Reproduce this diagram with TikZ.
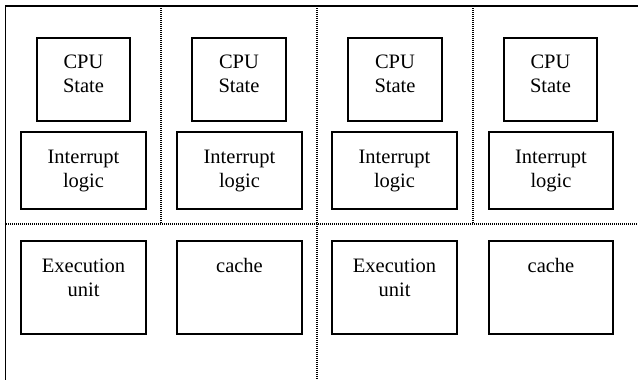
\documentclass[tikz,border=0pt]{standalone}
\usepackage{fontspec}
\setmainfont{Liberation Serif}
\begin{document}
\begin{tikzpicture}[x=1pt,y=-1pt,
  box/.style={draw=black,line width=1.6pt},
  lbl/.style={anchor=base,align=center,inner sep=0pt,font=\rmfamily\fontsize{20.5}{24.5}\selectfont},
  frame/.style={draw=black,line width=1.6pt},
  dot/.style={draw=black,line width=1.1pt,dash pattern=on 1pt off 1pt}]
\useasboundingbox (0,0) rectangle (638,380);
% frame
\coordinate (ftl) at (5.5,6);
\coordinate (fbl) at (5.5,380);
\coordinate (ftr) at (638,6);
\draw[frame] (fbl) -- (ftl) -- (ftr);
% dotted dividers
\coordinate (v1t) at (161,6); \coordinate (v1b) at (161,224);
\coordinate (v2t) at (317,6); \coordinate (v2b) at (317,380);
\coordinate (v3t) at (473,6); \coordinate (v3b) at (473,224);
\coordinate (hl) at (6,224); \coordinate (hr) at (638,224);
\draw[dot] (v1t) -- (v1b);
\draw[dot] (v2t) -- (v2b);
\draw[dot] (v3t) -- (v3b);
\draw[dot] (hl) -- (hr);
% CPU state boxes
\foreach \i/\a/\b in {1/37/130,2/192/286,3/348/442,4/504/597}{
  \node[box,inner sep=0pt,minimum width=\b-\a,minimum height=83] (cpu\i) at ({(\a+\b)/2},79.5) {};
  \node[lbl] (cput\i) at ({(\a+\b)/2},92.5) {CPU\\State};
}
% interrupt boxes
\foreach \i/\a/\b in {1/21/146,2/177/302,3/332/457,4/489/613}{
  \node[box,inner sep=0pt,minimum width=\b-\a,minimum height=77] (int\i) at ({(\a+\b)/2},170.5) {};
  \node[lbl] (intt\i) at ({(\a+\b)/2},187.5) {Interrupt\\logic};
}
% bottom boxes
\node[box,inner sep=0pt,minimum width=125,minimum height=93] (ex1) at (83.5,287.5) {};
\node[lbl] (ext1) at (83.5,296.5) {Execution\\unit};
\node[box,inner sep=0pt,minimum width=125,minimum height=93] (ca1) at (239.5,287.5) {};
\node[lbl] (cat1) at (239.5,272) {cache};
\node[box,inner sep=0pt,minimum width=125,minimum height=93] (ex2) at (394.5,287.5) {};
\node[lbl] (ext2) at (394.5,296.5) {Execution\\unit};
\node[box,inner sep=0pt,minimum width=124,minimum height=93] (ca2) at (551,287.5) {};
\node[lbl] (cat2) at (551,272) {cache};
\end{tikzpicture}
\end{document}
